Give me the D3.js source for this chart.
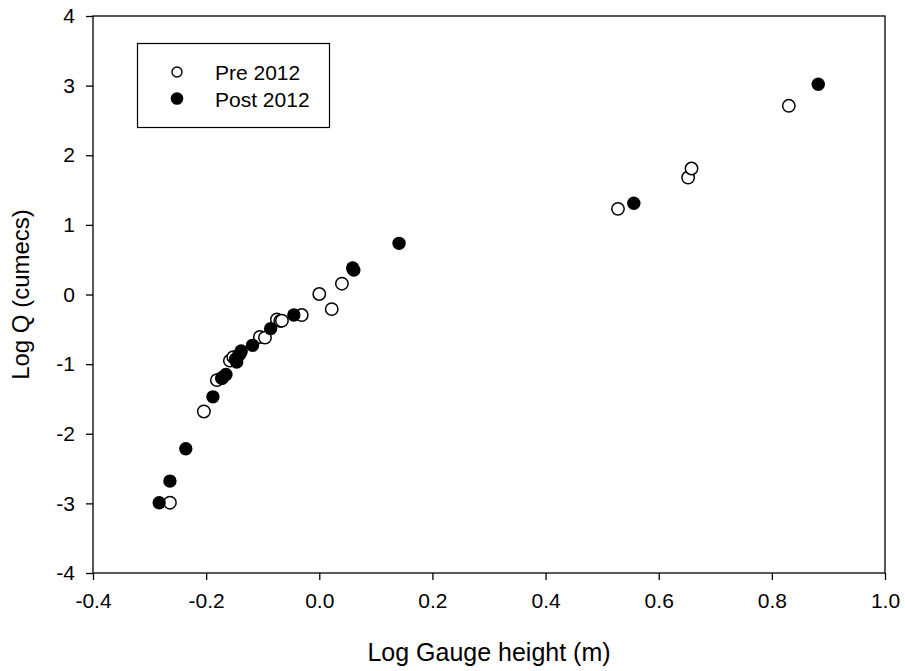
<!DOCTYPE html>
<html>
<head>
<meta charset="utf-8">
<script src="https://cdn.jsdelivr.net/npm/d3@7"></script>
<style>
  body { margin: 0; background: #fff; }
  svg text { font-family: "Liberation Sans", Arial, sans-serif; fill: #000; }
</style>
</head>
<body>
<svg id="chart" width="905" height="671"></svg>
<script>
// Pre 2012 (open circles)
var preX = [-0.264, -0.204, -0.181, -0.172, -0.158, -0.152, -0.105, -0.096, -0.075, -0.069, -0.066, -0.031, 0.000, 0.022, 0.040, 0.528, 0.652, 0.658, 0.830];
var preY = [-2.99, -1.68, -1.23, -1.20, -0.95, -0.90, -0.61, -0.62, -0.36, -0.38, -0.376, -0.295, 0.007, -0.21, 0.155, 1.23, 1.68, 1.81, 2.71];

// Post 2012 (filled circles)
var postX = [-0.283, -0.264, -0.236, -0.188, -0.172, -0.165, -0.148, -0.146, -0.143, -0.140, -0.138, -0.118, -0.086, -0.045, 0.059, 0.061, 0.141, 0.556, 0.882];
var postY = [-2.99, -2.68, -2.215, -1.47, -1.20, -1.15, -0.93, -0.97, -0.88, -0.85, -0.81, -0.73, -0.49, -0.295, 0.38, 0.35, 0.735, 1.31, 3.02];

var xTicks = [-0.4, -0.2, 0.0, 0.2, 0.4, 0.6, 0.8, 1.0];
var yTicks = [-4, -3, -2, -1, 0, 1, 2, 3, 4];
var legendLabels = ["Pre 2012", "Post 2012"];

var pLeft = 93, pRight = 885, pTop = 16, pBottom = 573;

var svg = d3.select("#chart");

var x = d3.scaleLinear().domain([-0.4, 1.0]).range([pLeft, pRight]);
var y = d3.scaleLinear().domain([-4, 4]).range([pBottom, pTop]);

// frame
svg.append("rect")
    .attr("x", pLeft).attr("y", pTop)
    .attr("width", pRight - pLeft).attr("height", pBottom - pTop)
    .attr("fill", "none").attr("stroke", "#000").attr("stroke-width", 1.3);

var xAxis = d3.axisBottom(x).tickValues(xTicks).tickSize(7).tickPadding(13);
var yAxis = d3.axisLeft(y).tickValues(yTicks).tickSize(7).tickPadding(11);

var gx = svg.append("g").attr("transform", "translate(0," + pBottom + ")").call(xAxis);
var gy = svg.append("g").attr("transform", "translate(" + pLeft + ",0)").call(yAxis);

[gx, gy].forEach(function(g){
    g.select(".domain").remove();
    g.selectAll("line").attr("stroke", "#000").attr("stroke-width", 1.3);
    g.selectAll("text").style("font-size", "21px")
        .style("font-family", "Liberation Sans, Arial, sans-serif").attr("fill", "#000");
});
gx.selectAll("text").text(function(d){ return d.toFixed(1); });
gy.selectAll("text").text(function(d){ return String(d); });

// axis titles
svg.append("text")
    .attr("x", (pLeft + pRight) / 2).attr("y", 661)
    .attr("text-anchor", "middle")
    .style("font-size", "25px")
    .text("Log Gauge height (m)");

svg.append("text")
    .attr("transform", "translate(29," + (pTop + pBottom) / 2 + ") rotate(-90)")
    .attr("text-anchor", "middle")
    .style("font-size", "24px")
    .text("Log Q (cumecs)");

// points
var pre = preX.map(function(d, i){ return [d, preY[i]]; });
var post = postX.map(function(d, i){ return [d, postY[i]]; });

svg.append("g").selectAll("circle").data(pre).enter().append("circle")
    .attr("cx", function(d){ return x(d[0]); })
    .attr("cy", function(d){ return y(d[1]); })
    .attr("r", 6.2)
    .attr("fill", "#fff").attr("stroke", "#000").attr("stroke-width", 1.5);

svg.append("g").selectAll("circle").data(post).enter().append("circle")
    .attr("cx", function(d){ return x(d[0]); })
    .attr("cy", function(d){ return y(d[1]); })
    .attr("r", 6.7)
    .attr("fill", "#000");

// legend
var lg = svg.append("g");
lg.append("rect")
    .attr("x", 137.5).attr("y", 43.5).attr("width", 192).attr("height", 84)
    .attr("fill", "#fff").attr("stroke", "#000").attr("stroke-width", 1.2);

legendLabels.forEach(function(label, i){
    var cy = 72 + i * 26.5;
    if (i === 0) {
        lg.append("circle").attr("cx", 177).attr("cy", cy).attr("r", 5)
            .attr("fill", "#fff").attr("stroke", "#000").attr("stroke-width", 1.4);
    } else {
        lg.append("circle").attr("cx", 177).attr("cy", cy).attr("r", 6.3)
            .attr("fill", "#000");
    }
    lg.append("text").attr("x", 215).attr("y", cy + 8)
        .style("font-size", "21px").text(label);
});
</script>
</body>
</html>
